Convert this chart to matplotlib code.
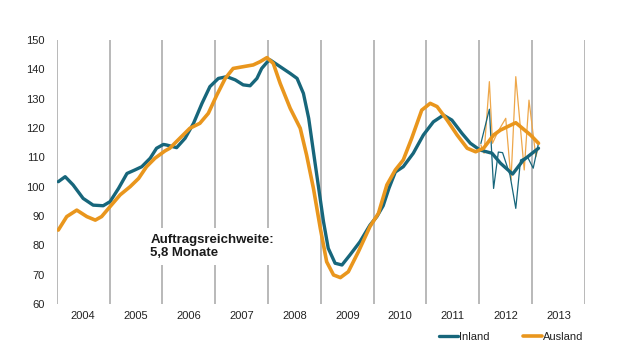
import numpy as np
import matplotlib
matplotlib.use("Agg")
import matplotlib.pyplot as plt

plt.rcParams['font.family'] = ['Liberation Sans', 'DejaVu Sans']

# Inland (smoothed): decimal year, index value
inland_t = [2004.03, 2004.16, 2004.31, 2004.50, 2004.69, 2004.88, 2005.01, 2005.17,
            2005.33, 2005.48, 2005.61, 2005.77, 2005.89, 2006.02, 2006.08, 2006.27,
            2006.43, 2006.59, 2006.75, 2006.90, 2007.06, 2007.22, 2007.38, 2007.53,
            2007.66, 2007.79, 2007.88, 2007.99, 2008.04, 2008.23, 2008.42, 2008.55,
            2008.67, 2008.77, 2008.86, 2008.95, 2009.05, 2009.14, 2009.27, 2009.40,
            2009.55, 2009.74, 2009.93, 2010.06, 2010.18, 2010.29, 2010.41, 2010.56,
            2010.75, 2010.94, 2011.13, 2011.32, 2011.48, 2011.67, 2011.83, 2012.01,
            2012.24, 2012.40, 2012.63, 2012.83, 2013.12]
inland_v = [101.7, 103.4, 100.6, 96.0, 93.7, 93.5, 94.9, 99.4,
            104.5, 105.7, 106.8, 109.7, 113.1, 114.4, 114.2, 113.3,
            116.5, 121.6, 128.4, 134.1, 136.9, 137.5, 136.4, 134.7,
            134.4, 136.9, 140.3, 142.6, 143.2, 140.9, 138.6, 136.9,
            131.8, 123.3, 111.9, 100.6, 88.1, 79.0, 73.9, 73.3,
            76.7, 81.2, 86.9, 89.8, 93.5, 99.5, 105.0, 106.8,
            111.4, 117.6, 122.1, 124.4, 122.7, 118.2, 114.8, 112.5,
            111.4, 108.0, 104.3, 109.0, 113.1]

# Ausland (smoothed)
ausland_t = [2004.03, 2004.19, 2004.38, 2004.57, 2004.73, 2004.85, 2005.01, 2005.20,
             2005.39, 2005.55, 2005.70, 2005.86, 2006.05, 2006.14, 2006.33, 2006.52,
             2006.71, 2006.87, 2007.03, 2007.19, 2007.34, 2007.53, 2007.72, 2007.85,
             2007.98, 2008.10, 2008.23, 2008.42, 2008.61, 2008.73, 2008.86, 2008.99,
             2009.11, 2009.24, 2009.37, 2009.52, 2009.71, 2009.93, 2010.09, 2010.25,
             2010.41, 2010.56, 2010.72, 2010.91, 2011.07, 2011.20, 2011.39, 2011.58,
             2011.77, 2011.93, 2012.08, 2012.27, 2012.40, 2012.69, 2012.97, 2013.12]
ausland_v = [85.2, 89.8, 92.0, 89.8, 88.6, 89.8, 93.2, 97.2,
             100.0, 102.8, 106.8, 109.7, 112.2, 113.1, 116.5, 119.9,
             121.6, 125.0, 131.2, 136.9, 140.3, 140.9, 141.5, 142.6,
             144.0, 142.0, 135.2, 126.7, 119.9, 110.8, 99.4, 85.8,
             74.4, 69.9, 69.0, 71.0, 77.8, 86.4, 90.9, 100.6,
             105.7, 109.1, 116.5, 126.1, 128.4, 127.3, 122.7, 117.6,
             113.1, 111.9, 113.1, 117.6, 119.3, 121.8, 117.6, 114.8]

# monthly (unsmoothed) values 2012/13
inland_m_t = [2012.03, 2012.19, 2012.27, 2012.36, 2012.44, 2012.58, 2012.69, 2012.78,
              2012.91, 2013.02, 2013.12]
inland_m_v = [114.8, 126.4, 99.4, 111.8, 111.6, 104.0, 92.6, 109.1, 110.2, 106.3, 114.8]
ausland_m_t = [2012.03, 2012.09, 2012.19, 2012.25, 2012.35, 2012.50, 2012.60, 2012.69,
               2012.85, 2012.94, 2013.07, 2013.11]
ausland_m_v = [114.2, 111.4, 135.8, 114.8, 118.7, 123.3, 102.3, 137.5,
               105.7, 129.5, 110.2, 113.0]

years = list(range(2004, 2014))
teal = '#17667b'
orange = '#e9961d'

fig = plt.figure(figsize=(6.28, 3.53), dpi=100)
ax = fig.add_axes([0.0903, 0.1388, 0.8412, 0.7479])

for y in range(2004, 2015):
    ax.axvline(y, color='#a6a6a6', lw=1.1, zorder=0)

ax.plot(ausland_m_t, ausland_m_v, color='#eea74a', lw=0.9, zorder=2)
ax.plot(inland_m_t, inland_m_v, color=teal, lw=0.9, zorder=2)
ax.plot(inland_t, inland_v, color=teal, lw=2.4, solid_joinstyle='round',
        solid_capstyle='round', zorder=3, label='Inland')
ax.plot(ausland_t, ausland_v, color=orange, lw=2.6, solid_joinstyle='round',
        solid_capstyle='round', zorder=4, label='Ausland')

ax.text(2005.77, 79.6, 'Auftragsreichweite:\n5,8 Monate', fontsize=9.5,
        fontweight='bold', color='#1a1a1a', va='center', ha='left', linespacing=1.2,
        bbox=dict(boxstyle='square,pad=0.4', fc='white', ec='none'), zorder=5)

ax.set_xlim(2004, 2014)
ax.set_ylim(60, 150)
ax.set_yticks(range(60, 151, 10))
ax.set_xticks([y + 0.5 for y in years])
ax.set_xticklabels([str(y) for y in years])
ax.tick_params(length=0, labelsize=8, colors='#222222')
ax.tick_params(axis='y', pad=8.5)
ax.tick_params(axis='x', pad=5)
for s in ax.spines.values():
    s.set_visible(False)

fig.legend(loc='center right', bbox_to_anchor=(0.945, 0.045), ncol=2, frameon=False,
           fontsize=8, handlelength=1.7, handletextpad=0.1, columnspacing=3.0,
           labelcolor='#222222')

fig.savefig('out.png', dpi=100)
